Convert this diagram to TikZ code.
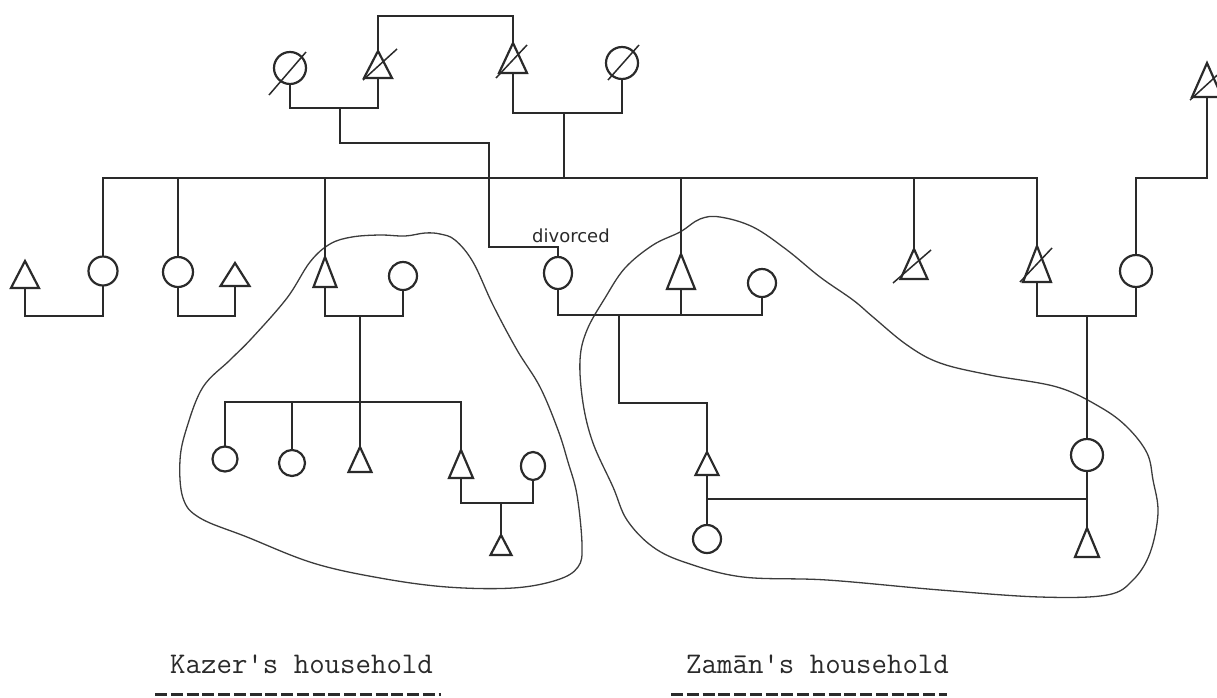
\documentclass[tikz,border=0pt]{standalone}
\usepackage{fontspec}
\newfontfamily\handfont{DejaVu Sans}
\usetikzlibrary{shapes.geometric,calc}
\definecolor{ink}{HTML}{2A2A2A}
\definecolor{pencil}{HTML}{3C3C3C}
\begin{document}
\begin{tikzpicture}[x=1pt,y=-1pt,
  ln/.style={draw=ink,line width=1.8pt},
  fem/.style={circle,draw=ink,line width=2.2pt,inner sep=0pt,outer sep=0pt},
  ell/.style={ellipse,draw=ink,line width=2.2pt,inner sep=0pt,outer sep=0pt},
  male/.style={isosceles triangle,isosceles triangle stretches,shape border rotate=90,
    draw=ink,line width=2.2pt,inner sep=0pt,outer sep=0pt,anchor=south},
  sz/.style 2 args={minimum width=#1,minimum height=#2},
  slash/.style={draw=ink,line width=1.5pt},
  outline/.style={draw=pencil,line width=1.3pt},
  caption/.style={anchor=base west,inner sep=0pt,text=ink,font=\ttfamily\fontsize{30}{32}\selectfont},
  uline/.style={draw=ink,line width=3.5pt,dash pattern=on 12pt off 3.75pt}]
\useasboundingbox (0,0) rectangle (1217,697);

% household outlines
\draw[outline] plot[smooth cycle,tension=0.6] coordinates {
 (330,244) (352,237) (380,235) (405,236) (425,233) (440,234) (455,240) (473,262) (493,305)
 (517,350) (540,387) (558,430) (568,462) (577,495) (582,545) (578,567) (557,580)
 (513,588) (447,587) (380,578) (313,563) (247,537) (200,518) (183,498) (180,460)
 (187,427) (203,387) (230,360) (252,338) (287,298) (310,262)};
\draw[outline] plot[smooth cycle,tension=0.6] coordinates {
 (700,219) (720,217) (753,227) (787,250) (820,277) (853,300) (873,317) (907,345)
 (940,363) (990,375) (1057,387) (1100,407) (1127,427) (1147,453) (1153,480)
 (1158,513) (1150,553) (1133,580) (1107,595) (1040,597) (940,590) (827,580)
 (743,577) (687,563) (653,547) (627,520) (613,487) (593,443) (583,403) (580,360)
 (587,330) (605,298) (625,268) (653,245) (680,232)};

% grandparents
\node[fem,minimum size=32pt] (gA) at (290,68) {};
\node[male,sz={28pt}{27pt}] (gB) at (378,78) {};
\node[male,sz={28pt}{30pt}] (gC) at (513,73) {};
\node[fem,minimum size=32pt] (gD) at (622,63) {};

% siblings
\node[fem,minimum size=29pt] (s1) at (103,271) {};
\node[fem,minimum size=30pt] (s2) at (178,272) {};
\node[male,sz={23pt}{30pt}] (s3) at (325,287) {};
\node[male,sz={28pt}{35pt}] (s4) at (681,289) {};
\node[male,sz={27pt}{30pt}] (s5) at (914,279) {};
\node[male,sz={28pt}{36pt}] (s6) at (1037,282) {};

% spouses
\node[male,sz={28pt}{27pt}] (p1) at (25,288) {};
\node[male,sz={29pt}{23pt}] (p2) at (235,286) {};
\node[fem,minimum size=28pt] (kw) at (403,276) {};
\node[ell,minimum width=28pt,minimum height=32pt] (dv) at (558,273) {};
\node[fem,minimum size=28pt] (zw) at (762,283) {};
\node[fem,minimum size=32pt] (rw) at (1136,271) {};
\node[male,sz={30pt}{34pt}] (rf) at (1207,97) {};

% Kazer's children
\node[fem,minimum size=25pt] (k1) at (225,459) {};
\node[fem,minimum size=26pt] (k2) at (292,463) {};
\node[male,sz={23pt}{25pt}] (k3) at (360,472) {};
\node[male,sz={24pt}{28pt}] (k4) at (461,478) {};
\node[ell,minimum width=24pt,minimum height=28pt] (kw2) at (533,466) {};
\node[male,sz={21pt}{20pt}] (gk) at (501,555) {};

% Zaman's household
\node[male,sz={23pt}{23pt}] (z1) at (707,475) {};
\node[fem,minimum size=28pt] (z2) at (707,539) {};
\node[fem,minimum size=32pt] (rd) at (1087,455) {};
\node[male,sz={24pt}{29pt}] (rs) at (1087,557) {};

% deceased slashes
\draw[slash] ([shift={(-21,27)}]gA.center) -- ([shift={(16,-16)}]gA.center);
\draw[slash] ([shift={(-15,2)}]gB.south) -- ([shift={(19,-29)}]gB.south);
\draw[slash] ([shift={(-17,5)}]gC.south) -- ([shift={(14,-28)}]gC.south);
\draw[slash] ([shift={(-14,17)}]gD.center) -- ([shift={(17,-18)}]gD.center);
\draw[slash] ([shift={(-21,4)}]s5.south) -- ([shift={(17,-29)}]s5.south);
\draw[slash] ([shift={(-17,0)}]s6.south) -- ([shift={(15,-34)}]s6.south);
\draw[slash] ([shift={(-17,3)}]rf.south) -- ([shift={(18,-29)}]rf.south);

% junction coordinates
\coordinate (top) at (445,16);
\coordinate (mAB) at (340,108);
\coordinate (mCD) at (564,113);
\coordinate (sbar) at (564,178);
\coordinate (jd) at (489,247);
\coordinate (m1) at (65,316);
\coordinate (m2) at (207,316);
\coordinate (m3) at (360,316);
\coordinate (m4) at (619,315);
\coordinate (m5) at (1087,316);
\coordinate (rbar) at (1170,178);
\coordinate (kb) at (360,402);
\coordinate (m6) at (501,503);
\coordinate (zb) at (660,403);
\coordinate (zh) at (707,499);

% connectors
\draw[ln] (gB.north) |- (top) -| (gC.north);
\draw[ln] (gA.south) |- (mAB) -| (gB.south);
\draw[ln] (gC.south) |- (mCD) -| (gD.south);
\draw[ln] (mCD) -- (sbar);
\draw[ln] (mAB) -- ++(0,35) -| (jd) -| (dv.north);
\draw[ln] (s1.north) |- (sbar) -| (s6.north);
\draw[ln] (s2.north) -- (s2.north |- sbar);
\draw[ln] (s3.north) -- (s3.north |- sbar);
\draw[ln] (s4.north) -- (s4.north |- sbar);
\draw[ln] (s5.north) -- (s5.north |- sbar);
\draw[ln] (p1.south) |- (m1) -| (s1.south);
\draw[ln] (s2.south) |- (m2) -| (p2.south);
\draw[ln] (s3.south) |- (m3) -| (kw.south);
\draw[ln] (dv.south) |- (m4) -| (zw.south);
\draw[ln] (s4.south) -- (s4.south |- m4);
\draw[ln] (s6.south) |- (m5) -| (rw.south);
\draw[ln] (rw.north) |- (rbar) -| (rf.south);
\draw[ln] (m3) -- (k3.north);
\draw[ln] (k1.north) |- (kb) -| (k4.north);
\draw[ln] (k2.north) -- (k2.north |- kb);
\draw[ln] (k4.south) |- (m6) -| (kw2.south);
\draw[ln] (m6) -- (gk.north);
\draw[ln] (m4) |- (zb) -| (z1.north);
\draw[ln] (z1.south) -- (z2.north);
\draw[ln] (m5) -- (rd.north);
\draw[ln] (rd.south) -- (rs.north);
\draw[ln] (zh) -- (zh -| rd.south);

% labels
\node[anchor=base west,inner sep=0pt,text=ink,font=\handfont\fontsize{18}{20}\selectfont] (dvl) at (532,242) {divorced};
\node[caption] (kz) at (170,673) {Kazer's household};
\node[caption] (zm) at (686,673) {Zam\={a}n's household};
\draw[uline] ([shift={(-15,21.5)}]kz.base west) -- ++(286,0);
\draw[uline] ([shift={(-15,21.5)}]zm.base west) -- ++(276,0);
\end{tikzpicture}
\end{document}
